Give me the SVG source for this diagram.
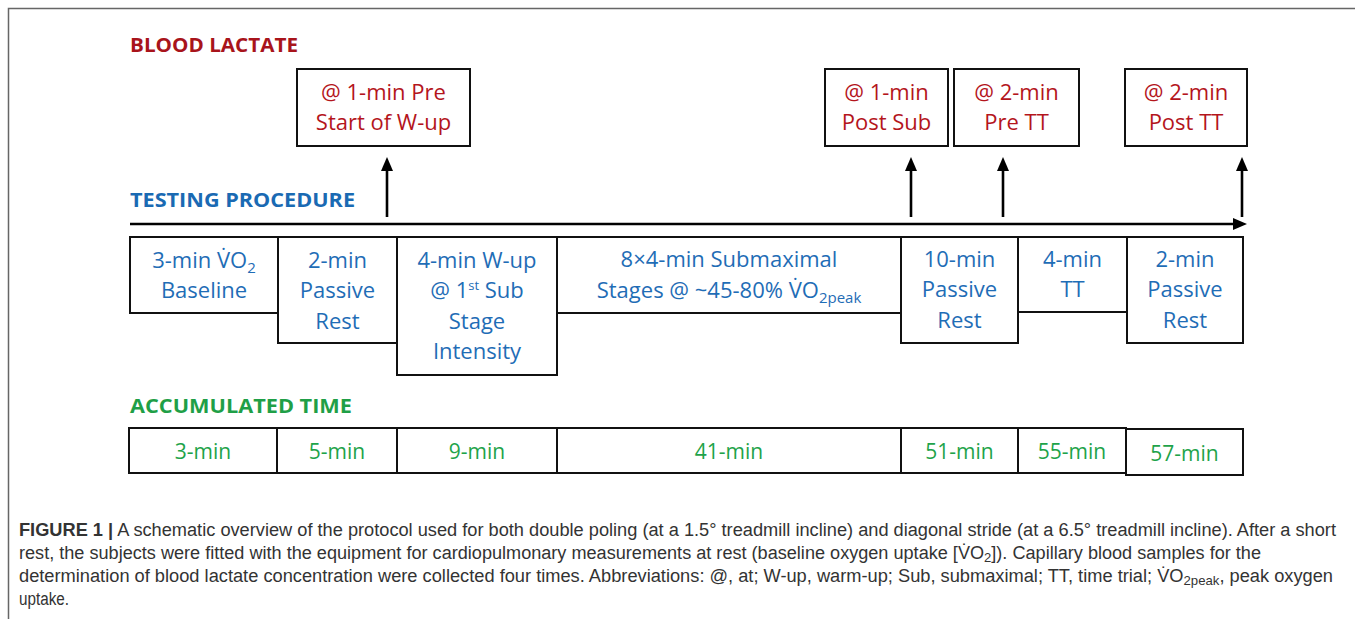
<svg xmlns="http://www.w3.org/2000/svg" width="1355" height="619" viewBox="0 0 1355 619">
<defs>
<style>
.box{fill:#fff;stroke:#111;stroke-width:2}
.t{font-family:"Open Sans","Noto Sans","Liberation Sans",sans-serif;font-size:22px;text-anchor:middle}
.red{fill:#b4151c}
.blue{fill:#1f6db6}
.green{fill:#1ea34a;font-size:21px}
.head{font-family:"Open Sans","Noto Sans","Liberation Sans",sans-serif;font-size:20px;font-weight:bold}
.cap{font-family:"Liberation Sans",Arial,sans-serif;font-size:18px;fill:#333}
.arr{stroke:#000;stroke-width:2.6;fill:none}
</style>
<marker id="ah" markerUnits="userSpaceOnUse" markerWidth="14" markerHeight="12" refX="5" refY="6" orient="auto" viewBox="0 0 14 12">
<path d="M0,0 L14,6 L0,12 Z" fill="#000"/>
</marker>
</defs>
<rect width="1355" height="619" fill="#fff"/>
<path d="M8.5,619 V8.5 H1355" fill="none" stroke="#666" stroke-width="1.5"/>

<text class="head" x="130" y="52" fill="#a8141b" textLength="168" lengthAdjust="spacingAndGlyphs">BLOOD LACTATE</text>
<text class="head" x="130" y="207" fill="#1a6ab3" textLength="225" lengthAdjust="spacingAndGlyphs">TESTING PROCEDURE</text>
<text class="head" x="130" y="413" fill="#1f9f47" textLength="222" lengthAdjust="spacingAndGlyphs">ACCUMULATED TIME</text>

<g id="connectors">
<line class="arr" x1="130" y1="224" x2="1238" y2="224" marker-end="url(#ah)"/>
<line class="arr" x1="387" y1="217" x2="387" y2="166" marker-end="url(#ah)"/>
<line class="arr" x1="911" y1="217" x2="911" y2="166" marker-end="url(#ah)"/>
<line class="arr" x1="1003" y1="217" x2="1003" y2="166" marker-end="url(#ah)"/>
<line class="arr" x1="1242" y1="217" x2="1242" y2="166" marker-end="url(#ah)"/>
</g>

<g id="lactate-pre-wup">
<rect class="box" x="297" y="69" width="173" height="77"/>
<text class="t red" x="383.5" y="100">@ 1-min Pre</text>
<text class="t red" x="383.5" y="130">Start of W-up</text>
</g>
<g id="lactate-post-sub">
<rect class="box" x="825" y="69" width="123" height="77"/>
<text class="t red" x="886.5" y="100">@ 1-min</text>
<text class="t red" x="886.5" y="130">Post Sub</text>
</g>
<g id="lactate-pre-tt">
<rect class="box" x="954" y="69" width="125" height="77"/>
<text class="t red" x="1016.5" y="100">@ 2-min</text>
<text class="t red" x="1016.5" y="130">Pre TT</text>
</g>
<g id="lactate-post-tt">
<rect class="box" x="1125" y="69" width="122" height="77"/>
<text class="t red" x="1186" y="100">@ 2-min</text>
<text class="t red" x="1186" y="130">Post TT</text>
</g>

<g id="proc-baseline">
<rect class="box" x="130" y="237" width="148" height="76"/>
<text class="t blue" x="204" y="268">3-min V&#x307;O<tspan font-size="15" dy="5">2</tspan></text>
<text class="t blue" x="204" y="298">Baseline</text>
</g>
<g id="proc-rest1">
<rect class="box" x="278" y="237" width="119" height="106"/>
<text class="t blue" x="337.5" y="268">2-min</text>
<text class="t blue" x="337.5" y="298">Passive</text>
<text class="t blue" x="337.5" y="329">Rest</text>
</g>
<g id="proc-wup">
<rect class="box" x="397" y="237" width="160" height="138"/>
<text class="t blue" x="477" y="268">4-min W-up</text>
<text class="t blue" x="477" y="298">@ 1<tspan font-size="13" dy="-8">st</tspan><tspan dy="8"> Sub</tspan></text>
<text class="t blue" x="477" y="329">Stage</text>
<text class="t blue" x="477" y="359">Intensity</text>
</g>
<g id="proc-sub">
<rect class="box" x="557" y="237" width="344" height="76"/>
<text class="t blue" x="729" y="267">8×4-min Submaximal</text>
<text class="t blue" x="729" y="298">Stages @ ~45-80% V&#x307;O<tspan font-size="15" dy="5">2peak</tspan></text>
</g>
<g id="proc-rest2">
<rect class="box" x="901" y="237" width="117" height="106"/>
<text class="t blue" x="959.5" y="267">10-min</text>
<text class="t blue" x="959.5" y="297">Passive</text>
<text class="t blue" x="959.5" y="328">Rest</text>
</g>
<g id="proc-tt">
<rect class="box" x="1018" y="237" width="109" height="75"/>
<text class="t blue" x="1072.5" y="267">4-min</text>
<text class="t blue" x="1072.5" y="297">TT</text>
</g>
<g id="proc-rest3">
<rect class="box" x="1127" y="237" width="116" height="106"/>
<text class="t blue" x="1185" y="267">2-min</text>
<text class="t blue" x="1185" y="297">Passive</text>
<text class="t blue" x="1185" y="328">Rest</text>
</g>

<g id="time-3"><rect class="box" x="129" y="428" width="148" height="45"/><text class="t green" x="203" y="459">3-min</text></g>
<g id="time-5"><rect class="box" x="277" y="428" width="120" height="45"/><text class="t green" x="337" y="459">5-min</text></g>
<g id="time-9"><rect class="box" x="397" y="428" width="160" height="45"/><text class="t green" x="477" y="459">9-min</text></g>
<g id="time-41"><rect class="box" x="557" y="428" width="344" height="45"/><text class="t green" x="729" y="459">41-min</text></g>
<g id="time-51"><rect class="box" x="901" y="428" width="117" height="45"/><text class="t green" x="959.5" y="459">51-min</text></g>
<g id="time-55"><rect class="box" x="1018" y="428" width="108" height="45"/><text class="t green" x="1072" y="459">55-min</text></g>
<g id="time-57"><rect class="box" x="1126" y="429" width="117" height="46"/><text class="t green" x="1184.5" y="461">57-min</text></g>

<text class="cap" x="19" y="536" textLength="1317" lengthAdjust="spacingAndGlyphs"><tspan font-weight="bold">FIGURE 1 |</tspan> A schematic overview of the protocol used for both double poling (at a 1.5° treadmill incline) and diagonal stride (at a 6.5° treadmill incline). After a short</text>
<text class="cap" x="19" y="559" textLength="1242" lengthAdjust="spacingAndGlyphs">rest, the subjects were fitted with the equipment for cardiopulmonary measurements at rest (baseline oxygen uptake [V&#x307;O<tspan font-size="13" dy="3">2</tspan><tspan dy="-3">]). Capillary blood samples for the</tspan></text>
<text class="cap" x="19" y="582" textLength="1314" lengthAdjust="spacingAndGlyphs">determination of blood lactate concentration were collected four times. Abbreviations: @, at; W-up, warm-up; Sub, submaximal; TT, time trial; V&#x307;O<tspan font-size="13" dy="3">2peak</tspan><tspan dy="-3">, peak oxygen</tspan></text>
<text class="cap" x="19" y="605" textLength="50" lengthAdjust="spacingAndGlyphs">uptake.</text>
</svg>
